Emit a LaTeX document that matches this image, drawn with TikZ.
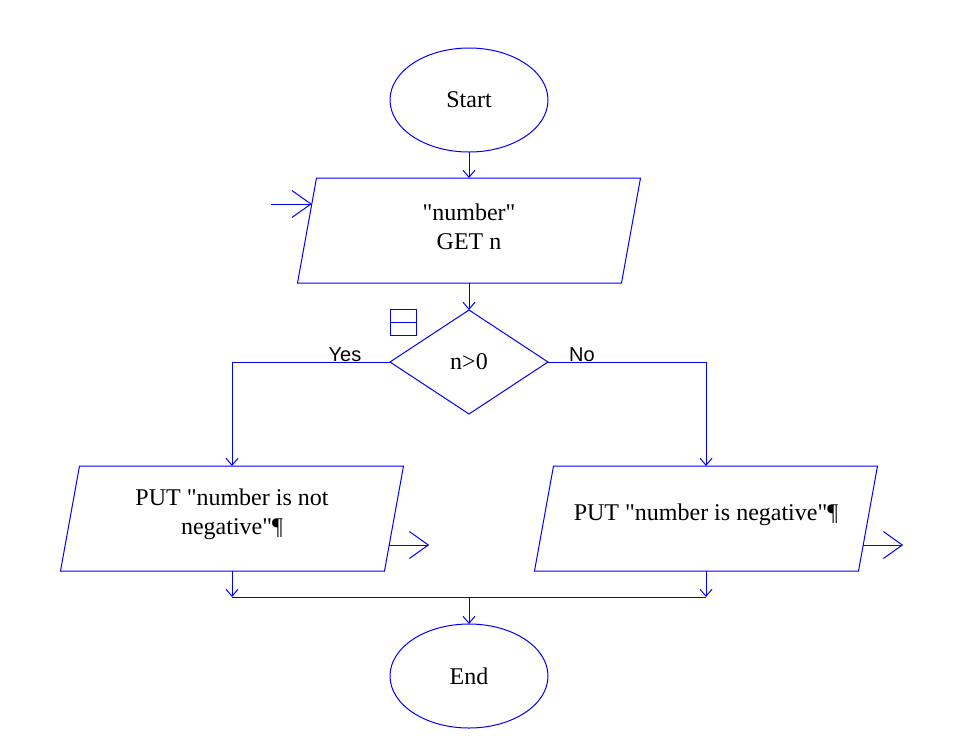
\documentclass[tikz,border=0pt]{standalone}
\usepackage{fontspec}
\setmainfont{Liberation Serif}[Ligatures = TeXOff]
\newfontfamily\yesnofont{Liberation Sans}
\usetikzlibrary{positioning}
\usetikzlibrary{shapes.geometric}
\usetikzlibrary{arrows.meta}

\begin{document}
\begin{tikzpicture}[
        x = 1pt, y = -1pt,
        wire/.style = {draw = blue, line width = 1pt},
        flow/.style = {
            draw = blue,
            line width = 1pt,
            inner sep = 0pt,
            outer sep = 0pt,
            font = \fontsize{24}{29}\selectfont,
            align = center
        },
        term/.style = {flow, ellipse, minimum width = 158pt, minimum height = 104pt},
        decision/.style = {flow, diamond, aspect = 1.52, minimum width = 158pt, minimum height = 104pt},
        io/.style = {
            flow,
            draw = none,
            rectangle,
            minimum width = 324pt,
            minimum height = 105pt,
            append after command = {
                \pgfextra{\draw[wire] ([xshift = 9.5pt]\tikzlastnode.north west)
                    -- ([xshift = 9.5pt]\tikzlastnode.north east)
                    -- ([xshift = -9.5pt]\tikzlastnode.south east)
                    -- ([xshift = -9.5pt]\tikzlastnode.south west) -- cycle;}
            }
        },
        iotext/.style = {font = \fontsize{24}{29}\selectfont, align = center, inner sep = 0pt, yshift = 4pt},
        answer/.style = {font = \yesnofont\fontsize{20}{24}\selectfont, anchor = base, inner sep = 0pt},
        bigarrow/.style = {-{Straight Barb[length = 19pt, width = 27pt]}},
        > = {Straight Barb[length = 7pt, width = 12pt]}
        ]
%
        \useasboundingbox (0,0) rectangle (963,737);
%
        \node[term] (start) at (469,100) {Start};
        \node[io, below = 26pt of start, label = {[iotext]center:{"number"\\GET n}}] (get) {};
        \node[decision, below = 27pt of get] (test) {n>0};
%
        \node[io, label = {[iotext]center:{PUT "number is not\\negative"¶}}] (put1) at (232,518.5) {};
        \node[io, label = {[iotext]center:{PUT "number is negative"¶}}] (put2) at (706,518.5) {};
%
        \coordinate (j) at (469,597);
        \node[term, below = 27pt of j] (stop) {End};
%
        \node[draw = blue, line width = 1pt, minimum size = 26pt, inner sep = 0pt] (mark) at (403,322) {};
        \draw[wire] (mark.west) -- (mark.east);
%
        \node[answer] (yes) at (345,361) {Yes};
        \node[answer] (no) at (582,361) {No};
%
%
        \draw[wire, ->] (start.south) -- (start.south |- get.north);
        \draw[wire, ->] (start.south |- get.south) -- (test.north);
%
        \draw[wire, ->] (test.west) -| (put1.north);
        \draw[wire, ->] (test.east) -| (put2.north);
%
        \draw[wire, ->] (put1.south) -- (put1.south |- j);
        \draw[wire, ->] (put2.south) -- (put2.south |- j);
        \draw[wire] (put1.south |- j) -- (put2.south |- j);
        \draw[wire, ->] (j) -- (stop.north);
%
        \coordinate (in) at ([shift = {(4.8,-26.5)}]get.west);
        \coordinate (src) at ([xshift = -41pt]in);
        \draw[wire, bigarrow] (src) -- (in);
%
        \coordinate (out1) at ([shift = {(-4.8,26.5)}]put1.east);
        \coordinate (out2) at ([shift = {(-4.8,26.5)}]put2.east);
        \coordinate (dst1) at ([xshift = 40pt]out1);
        \coordinate (dst2) at ([xshift = 40pt]out2);
        \draw[wire, bigarrow] (out1) -- (dst1);
        \draw[wire, bigarrow] (out2) -- (dst2);
%
    \end{tikzpicture}
\end{document}
